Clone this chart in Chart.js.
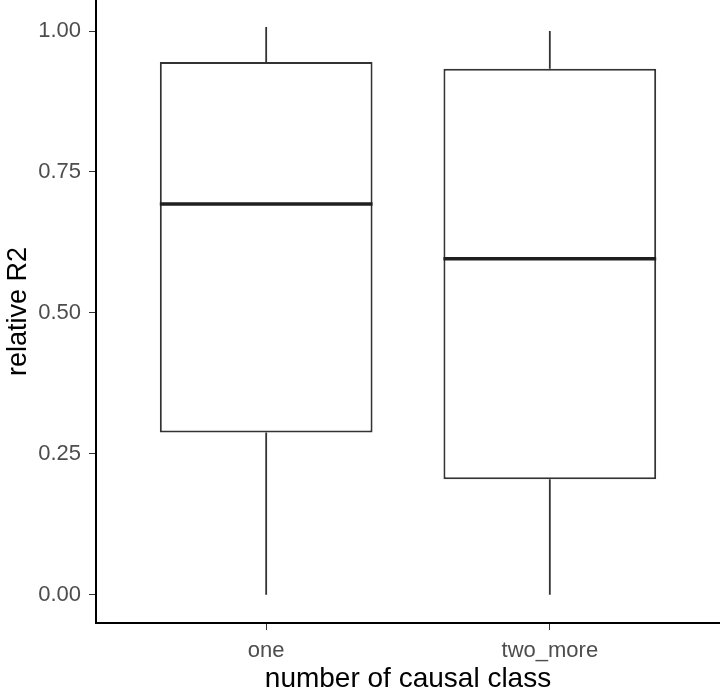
<!DOCTYPE html>
<html>
<head>
<meta charset="utf-8">
<script src="https://cdn.jsdelivr.net/npm/chart.js@4.4.1/dist/chart.umd.min.js"></script>
<style>
  html, body { margin: 0; padding: 0; background: #fff; }
  #wrap { width: 720px; height: 693px; }
</style>
</head>
<body>
<div id="wrap"><canvas id="boxChart"></canvas></div>
<script>
// ===== Data =====
const categories = ['one', 'two_more'];
const whiskerLow = [0.0, 0.0];
const q1 = [0.288, 0.205];
const median = [0.693, 0.596];
const q3 = [0.945, 0.933];
const whiskerHigh = [1.007, 1.0];
const yTicks = [0, 0.25, 0.5, 0.75, 1.0];

const FONT = '"Liberation Sans", Arial, sans-serif';

// whiskers + median drawn on top of the floating bars (the boxes)
const boxExtras = {
  id: 'boxExtras',
  afterDatasetsDraw(chart) {
    const { ctx } = chart;
    const y = chart.scales.y;
    const meta = chart.getDatasetMeta(0);
    ctx.save();
    meta.data.forEach((bar, i) => {
      const x = bar.x;
      const half = bar.width / 2;
      ctx.strokeStyle = '#333333';
      ctx.lineWidth = 1.8;
      ctx.beginPath();
      ctx.moveTo(x, y.getPixelForValue(q3[i]));
      ctx.lineTo(x, y.getPixelForValue(whiskerHigh[i]));
      ctx.moveTo(x, y.getPixelForValue(q1[i]));
      ctx.lineTo(x, y.getPixelForValue(whiskerLow[i]));
      ctx.stroke();
      ctx.strokeStyle = '#1f1f1f';
      ctx.lineWidth = 3.5;
      ctx.beginPath();
      ctx.moveTo(x - half, y.getPixelForValue(median[i]));
      ctx.lineTo(x + half, y.getPixelForValue(median[i]));
      ctx.stroke();
    });
    ctx.restore();
  },
};

const boxData = categories.map((c, i) => ({ x: i + 1, y: [q1[i], q3[i]] }));

new Chart(document.getElementById('boxChart'), {
  type: 'bar',
  data: {
    datasets: [{
      data: boxData,
      backgroundColor: '#ffffff',
      borderColor: '#333333',
      borderWidth: 2,
      borderSkipped: false,
      categoryPercentage: 1,
      barPercentage: 0.75,
    }],
  },
  options: {
    responsive: true,
    maintainAspectRatio: false,
    animation: false,
    layout: { padding: 0 },
    plugins: { legend: { display: false }, tooltip: { enabled: false } },
    scales: {
      x: {
        type: 'linear',
        min: 0.4,
        max: 2.6,
        offset: false,
        afterBuildTicks: (s) => { s.ticks = categories.map((c, i) => ({ value: i + 1 })); },
        afterFit: (s) => { s.height = 70; },
        ticks: {
          callback: (v) => categories[v - 1] || '',
          color: '#4d4d4d',
          font: { family: FONT, size: 22 },
          padding: 8,
          maxRotation: 0,
        },
        grid: { display: true, drawOnChartArea: false, drawTicks: true, tickLength: 7, color: '#333333', offset: false },
        border: { display: true, color: '#000000', width: 2 },
        title: {
          display: true,
          text: 'number of causal class',
          color: '#000000',
          font: { family: FONT, size: 28, lineHeight: 1.0 },
          padding: { top: 2, bottom: 0 },
        },
      },
      y: {
        min: -0.05,
        max: 1.055,
        afterBuildTicks: (s) => { s.ticks = yTicks.map((v) => ({ value: v })); },
        afterFit: (s) => { s.width = 96; s.paddingTop = 0; s.paddingBottom = 0; },
        ticks: {
          callback: (v) => Number(v).toFixed(2),
          color: '#4d4d4d',
          font: { family: FONT, size: 22 },
          padding: 8,
        },
        grid: { display: true, drawOnChartArea: false, drawTicks: true, tickLength: 7, color: '#333333' },
        border: { display: true, color: '#000000', width: 2 },
        title: {
          display: true,
          text: 'relative R2',
          color: '#000000',
          font: { family: FONT, size: 27 },
          padding: { top: 2, bottom: 0 },
        },
      },
    },
  },
  plugins: [boxExtras],
});
</script>
</body>
</html>
